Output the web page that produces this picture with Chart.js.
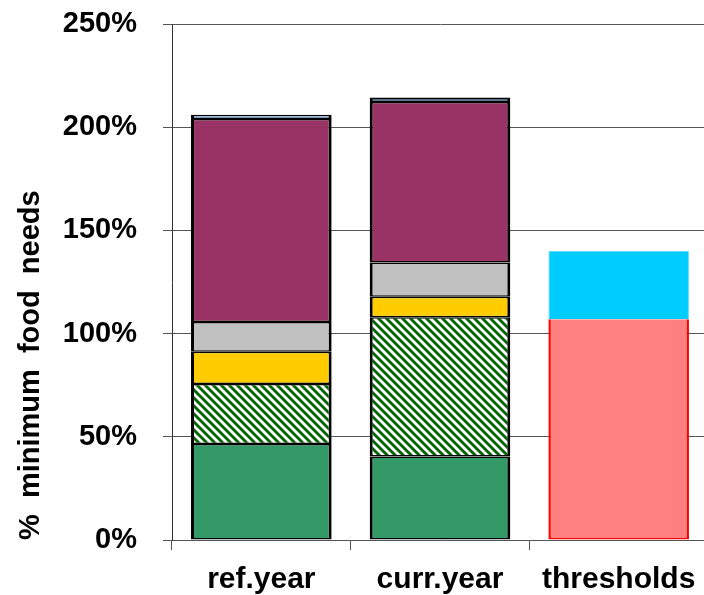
<!DOCTYPE html>
<html>
<head>
<meta charset="utf-8">
<script src="https://cdn.jsdelivr.net/npm/chart.js@4"></script>
<style>
  html, body { margin: 0; padding: 0; background: #fff; overflow: hidden; }
  #wrap { width: 704px; height: 595px; overflow: hidden; }
</style>
</head>
<body>
<div id="wrap"><canvas id="foodChart" width="708" height="595"></canvas></div>
<script>
const categories = ["ref.year", "curr.year", "thresholds"];

// % of minimum food needs, stacked bottom to top
const ownProduction = [46.5, 40.4, null];
const hatchedSource = [29.1, 67.5, null];
const yellowSource = [15.6, 10.0, null];
const greySource = [14.4, 16.6, null];
const maroonSource = [98.4, 77.7, null];
const topSource = [2.0, 2.2, null];
const thresholdLow = [null, null, 107.0];
const thresholdHigh = [null, null, 33.0];

const yTicks = [0, 50, 100, 150, 200, 250];

function makeHatch() {
    const c = document.createElement("canvas");
    c.width = 8;
    c.height = 8;
    const g = c.getContext("2d");
    g.fillStyle = "#006600";
    g.fillRect(0, 0, 8, 8);
    g.strokeStyle = "#ffffff";
    g.lineWidth = 2.8;
    g.beginPath();
    g.moveTo(-2, -2); g.lineTo(10, 10);
    g.moveTo(-2, 6); g.lineTo(2, 10);
    g.moveTo(6, -2); g.lineTo(10, 2);
    g.stroke();
    return g.createPattern(c, "repeat");
}

const barBorder = { top: 1.5, bottom: 1.5, left: 3, right: 3 };

function stackSet(label, values, color) {
    return {
        label: label,
        data: values,
        backgroundColor: color,
        borderColor: "#000000",
        borderWidth: barBorder,
        borderSkipped: false,
        stack: "s"
    };
}

const fontFamily = "'Liberation Sans', Arial, sans-serif";

const ctx = document.getElementById("foodChart").getContext("2d");

new Chart(ctx, {
    type: "bar",
    data: {
        labels: categories,
        datasets: [
            stackSet("own production", ownProduction, "#339966"),
            stackSet("hatched", hatchedSource, makeHatch()),
            stackSet("yellow", yellowSource, "#FFCC00"),
            stackSet("grey", greySource, "#C0C0C0"),
            stackSet("maroon", maroonSource, "#993366"),
            stackSet("top", topSource, ["#8DB4E2", "#4E6E8E", "#8DB4E2"]),
            {
                label: "threshold low",
                data: thresholdLow,
                backgroundColor: "#FF8080",
                borderColor: "#FF0000",
                borderWidth: { top: 0, bottom: 2, left: 2.5, right: 2.5 },
                borderSkipped: false,
                stack: "s"
            },
            {
                label: "threshold high",
                data: thresholdHigh,
                backgroundColor: "#00CCFF",
                borderColor: "#66DDFF",
                borderWidth: { top: 1, bottom: 0, left: 1, right: 1 },
                borderSkipped: false,
                stack: "s"
            }
        ]
    },
    options: {
        responsive: false,
        animation: false,
        barPercentage: 0.787,
        categoryPercentage: 1,
        layout: {
            padding: { top: 24, right: 0, bottom: 0, left: 0 }
        },
        plugins: {
            legend: { display: false },
            tooltip: { enabled: false }
        },
        scales: {
            x: {
                stacked: true,
                border: { display: true, color: "#555555", width: 1 },
                grid: {
                    offset: true,
                    drawOnChartArea: false,
                    color: "#555555",
                    tickLength: 10
                },
                ticks: {
                    color: "#000000",
                    padding: 12,
                    font: { family: fontFamily, size: 30, weight: "bold" }
                },
                afterFit: function(scale) {
                    scale.height = 55;
                    scale.paddingLeft = 0;
                    scale.paddingRight = 0;
                }
            },
            y: {
                stacked: true,
                min: 0,
                max: 250,
                afterBuildTicks: function(scale) {
                    scale.ticks = yTicks.map(v => ({ value: v }));
                },
                border: { display: true, color: "#333333", width: 1 },
                grid: {
                    color: "#555555",
                    lineWidth: 1,
                    tickLength: 9
                },
                ticks: {
                    color: "#000000",
                    padding: 26,
                    font: { family: fontFamily, size: 29, weight: "bold" },
                    callback: function(v) { return v + "%"; }
                },
                title: {
                    display: true,
                    text: "%  minimum  food  needs",
                    align: "start",
                    color: "#000000",
                    padding: { top: 14, bottom: 0 },
                    font: { family: fontFamily, size: 29, weight: "bold" }
                },
                afterFit: function(scale) {
                    scale.width = 172;
                    scale.paddingTop = 0;
                    scale.paddingBottom = 0;
                }
            }
        }
    }
});
</script>
</body>
</html>
